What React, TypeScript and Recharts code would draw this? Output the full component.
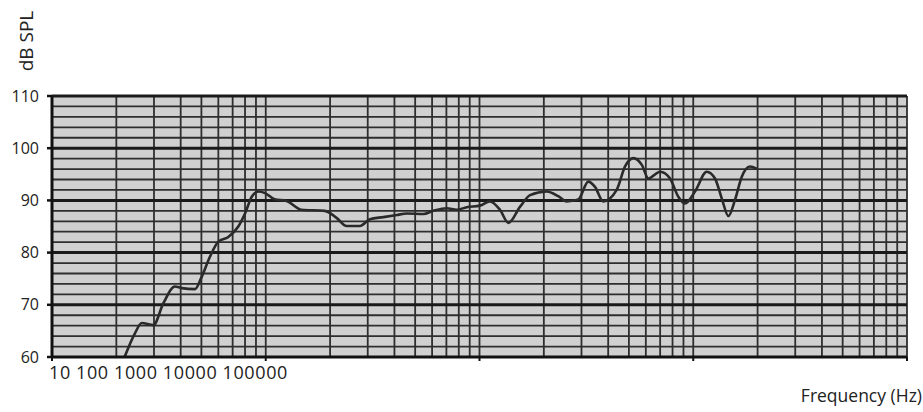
import { LineChart, Line, XAxis, YAxis, CartesianGrid, Label } from 'recharts'

// frequency (Hz) and level (dB SPL)
const freqs = [
  21.9, 24.4, 26.3, 29.8, 33.2, 37.6, 40.4, 46.7, 50.2, 54.8,
  60, 66.8, 74.4, 80, 86, 92.3, 99.3, 110, 125, 147,
  189, 215, 239, 276, 307, 355, 410, 457, 546, 608,
  703, 782, 871, 1005, 1119, 1247, 1365, 1549, 1724, 2062,
  2337, 2558, 2900, 3230, 3470, 3795, 4383, 4797, 5248, 5745,
  6168, 7000, 7788, 8515, 9147, 10190, 11560, 12640, 13590, 14600,
  15680, 16850, 18400, 19800,
]
const spl = [
  60.1, 64.5, 66.5, 66.1, 70.3, 73.5, 73.2, 73.0, 75.4, 79.2,
  82.1, 83.0, 85.0, 87.5, 90.7, 91.7, 91.4, 90.2, 89.9, 88.2,
  88.0, 86.6, 85.1, 85.1, 86.4, 86.8, 87.2, 87.5, 87.4, 88.0,
  88.5, 88.2, 88.7, 89.0, 89.8, 88.2, 85.7, 88.8, 91.0, 91.7,
  90.8, 89.8, 90.2, 93.6, 92.6, 89.8, 92.0, 96.5, 98.1, 96.8,
  94.2, 95.5, 94.2, 90.7, 89.4, 91.7, 95.5, 94.2, 90.4, 87.0,
  90.1, 94.5, 96.5, 96.1,
]

const xTicks = [10, 100, 1000, 10000, 100000]
const xTickLabels = ['10', '100', '1000', '10000', '100000']
const yTicks = [60, 70, 80, 90, 100, 110]
const yMajorGrid = [70, 80, 90, 100, 110]
const yMinorGrid = [62, 64, 66, 68, 72, 74, 76, 78, 82, 84, 86, 88, 92, 94, 96, 98, 102, 104, 106, 108]
const decadeSteps = [2, 3, 4, 5, 6, 7, 8, 9, 10]

const data = freqs.map((f, i) => ({ f, spl: spl[i] }))
const xGrid = xTicks.slice(0, 4).flatMap(d => decadeSteps.map(m => d * m))

const FONT = '"Open Sans", sans-serif'

const XTick = ({ x, y, index }: any) => {
  if (index !== 0) return null
  return (
    <text x={x - 3} y={y} dy={16} textAnchor="start" fill="#222" fontSize={18} letterSpacing={0.6} fontFamily={FONT}>
      {xTickLabels.join(' ')}
    </text>
  )
}

export default function App() {
  return (
    <div style={{ position: 'absolute', left: 0, top: 0, width: 923, height: 412, background: '#fff' }}>
      <style>{'body{margin:0}'}</style>
      <LineChart width={923} height={412} data={data} margin={{ top: 96, right: 16, bottom: 25, left: 0 }}>
        <CartesianGrid
          fill="#d0d0d0"
          stroke="#2e2e2e"
          strokeWidth={1.8}
          horizontalValues={yMinorGrid}
          verticalValues={xGrid}
        />
        <CartesianGrid
          fill="none"
          stroke="#1a1a1a"
          strokeWidth={3}
          horizontalValues={yMajorGrid}
          vertical={false}
        />
        <XAxis
          dataKey="f"
          type="number"
          scale="log"
          domain={[10, 100000]}
          ticks={xTicks}
          interval={0}
          allowDataOverflow
          height={30}
          tick={<XTick />}
          tickSize={4}
          tickLine={{ stroke: '#111', strokeWidth: 2 }}
          axisLine={{ stroke: '#111', strokeWidth: 3 }}
        >
          <Label
            content={({ viewBox }: any) => (
              <text
                x={viewBox.x + viewBox.width + 15}
                y={viewBox.y + 45}
                textAnchor="end"
                fill="#222"
                fontSize={17.5}
                fontFamily={FONT}
              >
                Frequency (Hz)
              </text>
            )}
          />
        </XAxis>
        <YAxis
          type="number"
          domain={[60, 110]}
          ticks={yTicks}
          interval={0}
          width={52}
          tickSize={5}
          tickMargin={8}
          tick={{ fill: '#222', fontSize: 16, fontFamily: FONT }}
          tickLine={{ stroke: '#111', strokeWidth: 2.5 }}
          axisLine={{ stroke: '#111', strokeWidth: 3 }}
        >
          <Label
            content={() => (
              <text
                x={33}
                y={41}
                transform="rotate(-90, 33, 41)"
                textAnchor="middle"
                fill="#222"
                fontSize={19}
                fontFamily={FONT}
              >
                dB SPL
              </text>
            )}
          />
        </YAxis>
        <Line
          type="monotone"
          dataKey="spl"
          stroke="#2a2a2a"
          strokeWidth={2.6}
          dot={false}
          isAnimationActive={false}
        />
      </LineChart>
    </div>
  )
}
